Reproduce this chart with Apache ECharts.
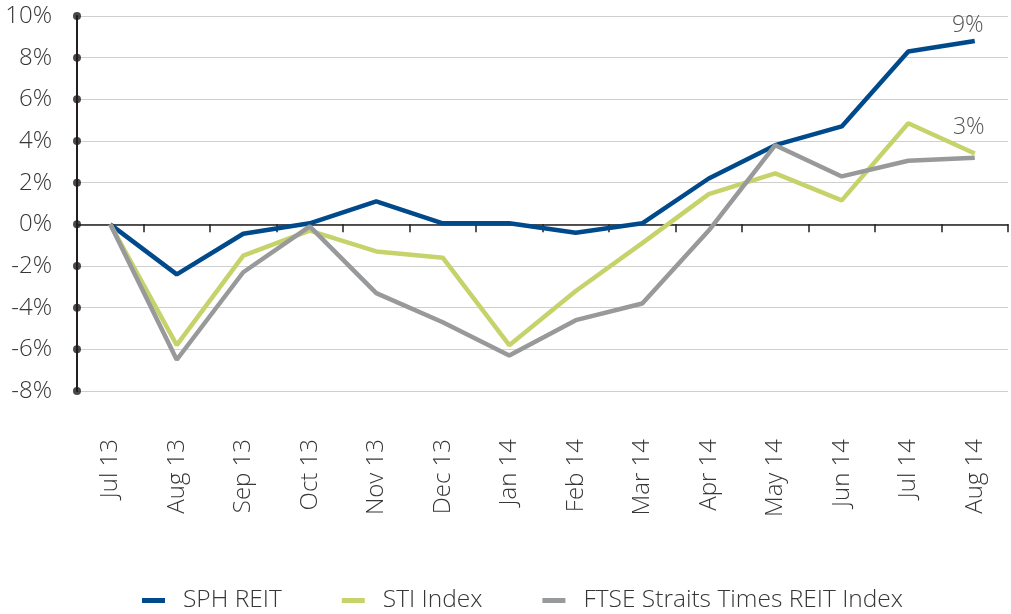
<!DOCTYPE html>
<html>
<head>
<meta charset="utf-8">
<script src="https://cdn.jsdelivr.net/npm/echarts@6/dist/echarts.min.js"></script>
<style>html,body{margin:0;padding:0;background:#fff}#c{width:1011px;height:614px}</style>
</head>
<body>
<div id="c"></div>
<script>
const categories = ['Jul 13','Aug 13','Sep 13','Oct 13','Nov 13','Dec 13','Jan 14','Feb 14','Mar 14','Apr 14','May 14','Jun 14','Jul 14','Aug 14'];
const sphReit = [0, -2.4, -0.45, 0.05, 1.1, 0.05, 0.05, -0.4, 0.05, 2.2, 3.8, 4.7, 8.3, 8.8];
const stiIndex = [0, -5.8, -1.5, -0.3, -1.3, -1.6, -5.8, -3.2, -0.9, 1.45, 2.45, 1.15, 4.85, 3.4];
const ftseReit = [0, -6.5, -2.3, -0.1, -3.3, -4.7, -6.3, -4.6, -3.8, -0.3, 3.8, 2.3, 3.05, 3.2];
const yTicks = [-8, -6, -4, -2, 0, 2, 4, 6, 8, 10];
const seriesNames = ['SPH REIT', 'STI Index', 'FTSE Straits Times REIT Index'];
const endLabels = {sph: '9%', sti: '3%'};

const FONT = 'Open Sans';
const TXT = '#363636';
const FS = 24;
const chart = echarts.init(document.getElementById('c'), null, {renderer: 'canvas'});

function withEndLabel(arr, text, dist, off) {
  return arr.map((v, i) => i === arr.length - 1 ? {
    value: v,
    symbolSize: 0,
    label: {show: true, position: 'top', distance: dist, offset: off, formatter: text,
            color: '#555', fontFamily: FONT, fontSize: 23, fontWeight: 300}
  } : v);
}

chart.setOption({
  animation: false,
  grid: {left: 77, right: 3, top: 16, bottom: 223, containLabel: false},
  xAxis: [
    {type: 'category', data: categories, position: 'bottom', boundaryGap: true,
     axisLine: {show: false, onZero: false}, axisTick: {show: false}, splitLine: {show: false},
     axisLabel: {rotate: 90, margin: 48, color: TXT, fontFamily: FONT, fontSize: FS, fontWeight: 300}},
    {type: 'category', data: categories, position: 'top', boundaryGap: true,
     axisLine: {show: true, onZero: true, lineStyle: {color: '#231f20', width: 1.5}},
     axisTick: {show: true, inside: true, length: 8, lineStyle: {color: '#231f20', width: 1.5}},
     axisLabel: {show: false}, splitLine: {show: false}},
    {type: 'value', min: 0, max: 1, show: false}
  ],
  yAxis: {
    type: 'value', min: -8, max: 10, interval: 2,
    axisLine: {show: true, onZero: false, lineStyle: {color: '#231f20', width: 2}},
    axisTick: {show: false},
    axisLabel: {margin: 25, color: TXT, fontFamily: FONT, fontSize: FS, fontWeight: 300, formatter: '{value}%'},
    splitLine: {show: true, lineStyle: {color: '#cfcfcf', width: 1.2}}
  },
  legend: {
    bottom: 1, left: 142, padding: 0, icon: 'rect', itemWidth: 23, itemHeight: 5, itemGap: 60,
    textStyle: {color: TXT, fontFamily: FONT, fontSize: 24.5, fontWeight: 300, padding: [0, 0, 0, 13]},
    data: seriesNames
  },
  series: [
    {name: seriesNames[0], type: 'line', xAxisIndex: 0, data: withEndLabel(sphReit, endLabels.sph, 4, [-7, 0]),
     showSymbol: true, symbol: 'circle', symbolSize: 0, lineStyle: {color: '#004a8c', width: 4.5}, itemStyle: {color: '#004a8c'}, z: 3},
    {name: seriesNames[1], type: 'line', xAxisIndex: 0, data: withEndLabel(stiIndex, endLabels.sti, 15, [-6, 0]),
     showSymbol: true, symbol: 'circle', symbolSize: 0, lineStyle: {color: '#c6d36b', width: 4.5}, itemStyle: {color: '#c6d36b'}, z: 3},
    {name: seriesNames[2], type: 'line', xAxisIndex: 0, data: ftseReit,
     showSymbol: false, symbol: 'none', lineStyle: {color: '#98999b', width: 4.5}, itemStyle: {color: '#98999b'}, z: 4},
    {type: 'scatter', xAxisIndex: 2, data: yTicks.map(v => [0, v]), symbol: 'circle', symbolSize: 8,
     itemStyle: {color: '#1e1a1b'}, clip: false, silent: true, z: 6}
  ]
});
</script>
</body>
</html>
